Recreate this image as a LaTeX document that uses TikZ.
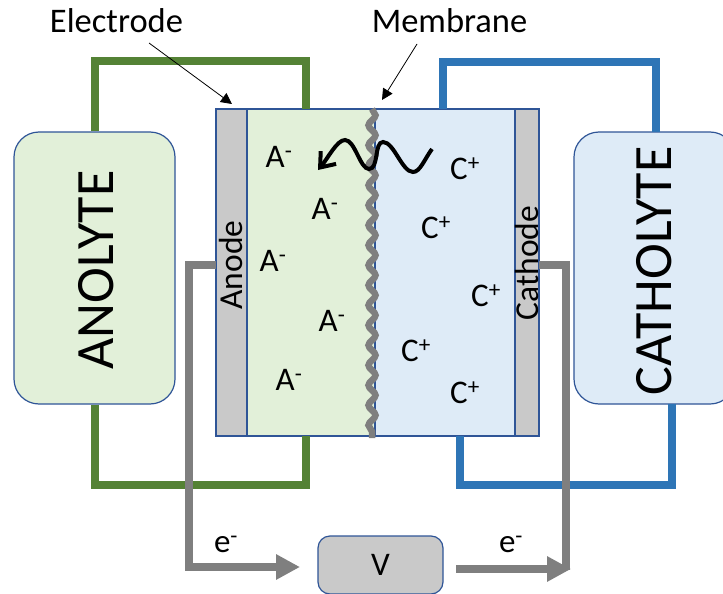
\documentclass[tikz,border=0pt]{standalone}
\usepackage{fontspec}
\setmainfont{Carlito}
\usetikzlibrary{arrows.meta,decorations.pathmorphing}
\definecolor{boxblue}{HTML}{2F5597}
\definecolor{anolytegreen}{HTML}{E2F0D9}
\definecolor{catholyteblue}{HTML}{DEEBF7}
\definecolor{pipegreen}{HTML}{548235}
\definecolor{pipeblue}{HTML}{2E75B6}
\definecolor{wiregray}{HTML}{7F7F7F}
\definecolor{plategray}{HTML}{C9C9C9}
\tikzset{
	tank/.style={draw=boxblue, line width=1.2pt, rounded corners=25pt, minimum width=161pt, minimum height=272pt, inner sep=0pt},
	cellpart/.style={draw=boxblue, line width=1.5pt, minimum height=327pt, inner sep=0pt},
	ion/.style={font=\fontsize{33}{33}\selectfont, inner sep=0pt},
	pipe/.style={line width=8pt},
	wire/.style={line width=8pt, color=wiregray},
	wirehead/.style={-{Triangle[length=24pt,width=24pt]}},
	pointer/.style={line width=0.8pt, -{Triangle[length=11pt,width=11pt]}}
}
\begin{document}
\begin{tikzpicture}[x=1pt, y=-1pt]
		%%%%% START %%%%%
		\useasboundingbox (0, 0) rectangle (723, 594);
		
		\node[tank, fill=anolytegreen] (anolyte) at (94.5, 268) {};
		\node[tank, fill=catholyteblue] (catholyte) at (654.5, 268) {};
		\node[rotate=90, font=\fontsize{54}{54}\selectfont] (anolytetext) at (96, 270) {ANOLYTE};
		\node[rotate=90, font=\fontsize{54}{54}\selectfont] (catholytetext) at (654, 271) {CATHOLYTE};
		
		\node[cellpart, fill=anolytegreen, minimum width=128pt] (greenside) at (311, 272.5) {};
		\node[cellpart, fill=catholyteblue, minimum width=140pt] (blueside) at (445, 272.5) {};
		\node[cellpart, fill=plategray, minimum width=31pt] (anode) at (231.5, 272.5) {};
		\node[cellpart, fill=plategray, minimum width=24pt] (cathode) at (527, 272.5) {};
		\node[rotate=90, font=\fontsize{33.5}{33.5}\selectfont] (anodetext) at (231, 265) {Anode};
		\node[rotate=90, font=\fontsize{33.5}{33.5}\selectfont] (cathodetext) at (527, 263) {Cathode};
		
		% flow loops
		\coordinate (greentop) at (306, 109);
		\coordinate (greenbottom) at (306, 436);
		\coordinate (bluetop) at (443, 109);
		\coordinate (bluebottom) at (460, 436);
		\draw[pipe, pipegreen] (anolyte.north) -- (94.5, 61) -- (306, 61) -- (greentop);
		\draw[pipe, pipegreen] (anolyte.south) -- (94.5, 485) -- (306, 485) -- (greenbottom);
		\draw[pipe, pipeblue] (bluetop) -- (443, 62) -- (656, 62) -- (656, 132);
		\draw[pipe, pipeblue] (bluebottom) -- (460, 485) -- (672, 485) -- (672, 404);
		
		% membrane
		\coordinate (membranetop) at (372, 109);
		\coordinate (membranebottom) at (372, 438);
		\draw[line width=6.5pt, wiregray, decorate, decoration={snake, segment length=20pt, amplitude=3.5pt}] (membranetop) -- (membranebottom);
		
		% ions
		\node[ion] (aone) at (279, 157) {A\textsuperscript{-}};
		\node[ion] (atwo) at (325, 209) {A\textsuperscript{-}};
		\node[ion] (athree) at (273, 261) {A\textsuperscript{-}};
		\node[ion] (afour) at (332, 321) {A\textsuperscript{-}};
		\node[ion] (afive) at (289, 380) {A\textsuperscript{-}};
		\node[ion] (cone) at (465, 169) {C\textsuperscript{+}};
		\node[ion] (ctwo) at (436, 228) {C\textsuperscript{+}};
		\node[ion] (cthree) at (486, 296) {C\textsuperscript{+}};
		\node[ion] (cfour) at (416, 351) {C\textsuperscript{+}};
		\node[ion] (cfive) at (465, 393) {C\textsuperscript{+}};
		
		% crossing ion
		\draw[line width=4pt, -{Straight Barb[length=13pt,width=20pt]}] (432, 149) .. controls (424, 160) and (420, 172) .. (413, 172)
			.. controls (402, 172) and (394, 142) .. (383, 142)
			.. controls (374, 142) and (379, 169) .. (369, 169)
			.. controls (360, 169) and (355, 140) .. (345, 140)
			.. controls (337, 140) and (328, 158) .. (318, 170);
		
		% external circuit
		\node[draw=boxblue, line width=1.2pt, fill=plategray, rounded corners=12pt, minimum width=125pt, minimum height=58pt, font=\fontsize{33}{33}\selectfont] (voltmeter) at (380.5, 565) {V};
		\coordinate (anodewire) at (216, 265);
		\coordinate (cathodewire) at (539, 265);
		\coordinate (leftend) at (300, 567);
		\coordinate (rightstart) at (456, 569);
		\coordinate (rightend) at (571, 569);
		\draw[wire, wirehead] (anodewire) -- (189, 265) -- (189, 567) -- (leftend);
		\draw[wire, wirehead] (rightstart) -- (rightend);
		\draw[wire] (cathodewire) -- (566, 265) -- (566, 570);
		\node[ion] (eleft) at (226, 544) {e\textsuperscript{-}};
		\node[ion] (eright) at (511, 544) {e\textsuperscript{-}};
		
		% labels
		\node[font=\fontsize{34.5}{34.5}\selectfont] (electrode) at (116.5, 21) {Electrode};
		\node[font=\fontsize{34.5}{34.5}\selectfont] (membrane) at (449.5, 21) {Membrane};
		\coordinate (electrodestart) at (149, 43);
		\coordinate (electrodetip) at (232, 104);
		\coordinate (membranestart) at (417, 44);
		\coordinate (membranetip) at (382, 100);
		\draw[pointer] (electrodestart) -- (electrodetip);
		\draw[pointer] (membranestart) -- (membranetip);
		
		%%%%% END %%%%%
	\end{tikzpicture}
\end{document}
